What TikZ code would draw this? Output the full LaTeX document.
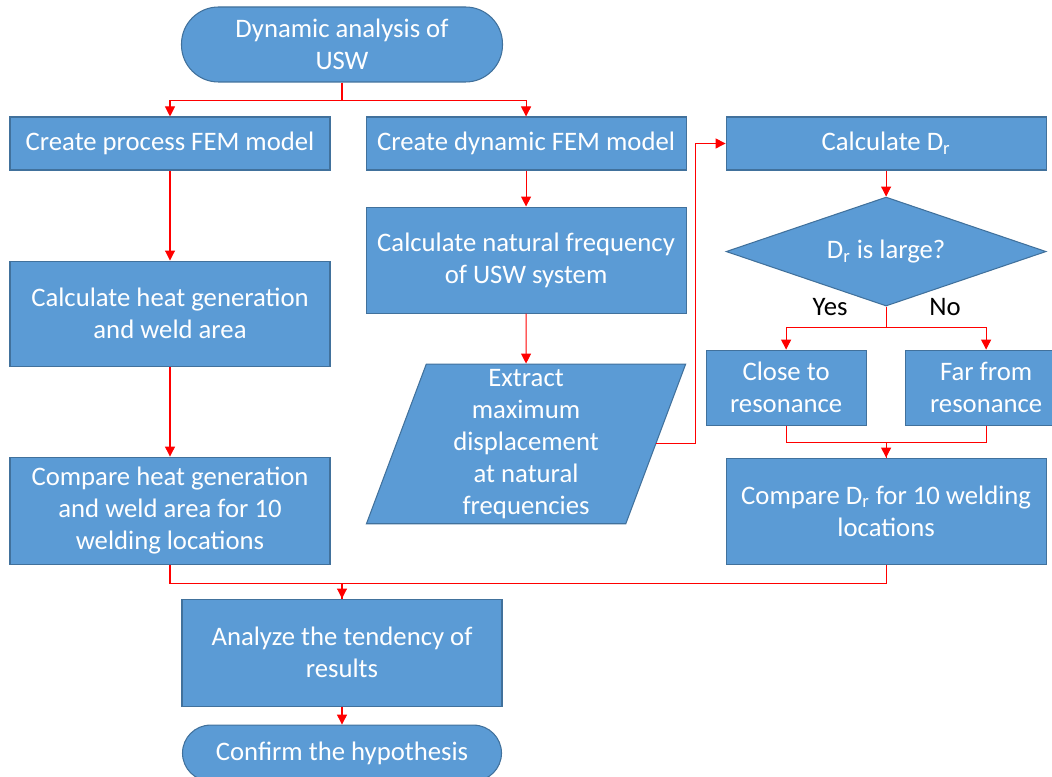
\documentclass[tikz,border=0pt]{standalone}
\usepackage{fontspec}
\setmainfont{Carlito}
\usetikzlibrary{arrows.meta,positioning,shapes.geometric}

\definecolor{boxfill}{HTML}{5B9BD5}
\definecolor{boxline}{HTML}{41719C}

\begin{document}
\begin{tikzpicture}[
    font=\fontsize{15.2}{18.3}\selectfont,
    base/.style={draw=boxline,line width=0.6pt,fill=boxfill,text=white,
                 align=center,inner sep=0pt},
    proc/.style={base,rectangle,minimum width=6.4cm},
    term/.style={base,rectangle,rounded corners=0.74cm,minimum width=6.42cm},
    io/.style={base,trapezium,trapezium left angle=69.4,trapezium right angle=110.6,
               inner ysep=-0.34cm,minimum width=6.4cm,minimum height=3.2cm},
    decision/.style={base,diamond,aspect=2.94,minimum width=6.4cm,minimum height=2.18cm},
    flow/.style={color=red,line width=0.6pt,-{Triangle[width=0.2cm,length=0.2cm]}},
    line/.style={color=red,line width=0.6pt}
  ]
    \useasboundingbox (0,0) rectangle (21.04,-15.54);

    \node[term]  (start) at (6.84,-0.89) [minimum height=1.5cm]  {Dynamic analysis of\\USW};
    \node[proc]  (a1) at (3.4,-2.87) [minimum height=1.06cm]     {Create process FEM model};
    \node[proc]  (b1) [right=0.7cm of a1,minimum height=1.06cm]  {Create dynamic FEM model};
    \node[proc]  (c1) [right=0.78cm of b1,minimum height=1.06cm] {Calculate D\textsubscript{r}};

    \node[proc]  (a2) [below=1.8cm of a1,minimum height=2.1cm]   {Calculate heat generation\\and weld area};
    \node[proc]  (a3) [below=1.8cm of a2,minimum height=2.14cm]  {Compare heat generation\\and weld area for 10\\welding locations};

    \node[proc]  (b2) [below=0.72cm of b1,minimum height=2.12cm] {Calculate natural frequency\\of USW system};
    \node[io]    (b3) [below=1.0cm of b2]  {Extract\\maximum\\displacement\\at natural\\frequencies};

    \node[decision] (dec) [below=0.52cm of c1] {D\textsubscript{r} is large?};
    \node[proc]  (close) [below=0.86cm of dec,xshift=-2cm,minimum width=3.2cm,minimum height=1.5cm] {Close to\\resonance};
    \node[proc]  (far)   [below=0.86cm of dec,xshift=2cm,minimum width=3.24cm,minimum height=1.5cm] {Far from\\resonance};
    \node[proc]  (c3) [below=3.02cm of dec,minimum height=2.12cm] {Compare D\textsubscript{r} for 10 welding\\locations};

    \node[proc]  (d) [below=10.32cm of start,minimum height=2.14cm] {Analyze the tendency of\\results};
    \node[term]  (e) [below=0.36cm of d,minimum width=6.38cm,minimum height=1.12cm,rounded corners=0.56cm] {Confirm the hypothesis};

    \node at ([xshift=-1.12cm]dec.south) {Yes};
    \node at ([xshift=1.18cm]dec.south)  {No};

    % straight links
    \path[flow] (a1) edge (a2)
                (a2) edge (a3)
                (b1) edge (b2)
                (b2) edge (b3)
                (c1) edge (dec)
                (d)  edge (e)
                ;

    % branches and merges
    \draw[flow] (start.south) -- ++(0,-0.36) -| (a1.north);
    \draw[flow] (start.south) -- ++(0,-0.36) -| (b1.north);
    \draw[flow] (b3.east) -- ++(0.78,0) |- (c1.west);
    \draw[flow] (dec.south) -- ++(0,-0.42) -| (close.north);
    \draw[flow] (dec.south) -- ++(0,-0.42) -| (far.north);
    \draw[line] (far.south) -- ++(0,-0.34) -| (c3.north);
    \draw[flow] (close.south) -- ++(0,-0.34) -| (c3.north);
    \draw[line] (c3.south) -- ++(0,-0.38) -| (d.north);
    \draw[flow] (a3.south) -- ++(0,-0.38) -| (d.north);
\end{tikzpicture}
\end{document}
